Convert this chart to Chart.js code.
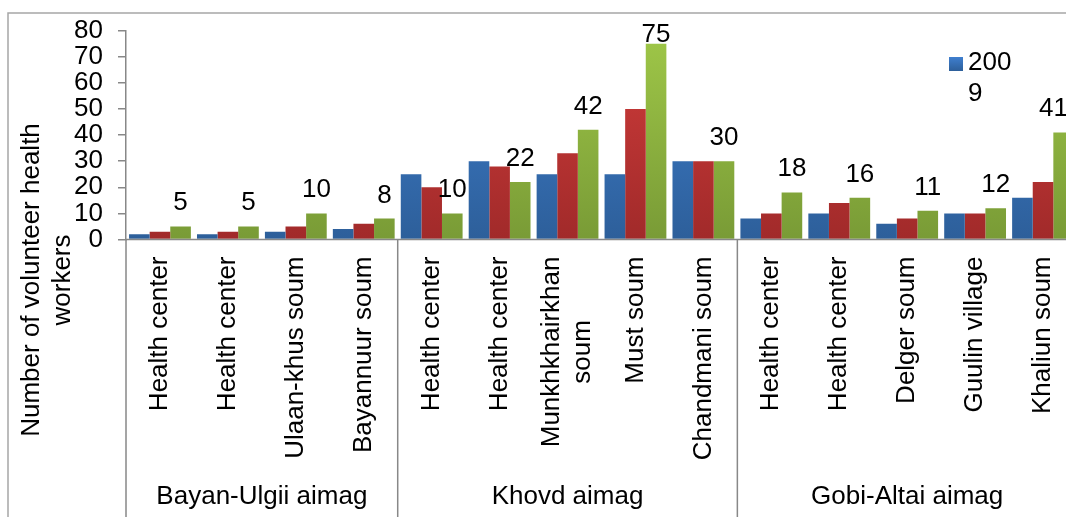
<!DOCTYPE html>
<html lang="en">
<head>
    <meta charset="UTF-8">
    <title>Volunteer health workers by soum</title>
    <script src="https://cdn.jsdelivr.net/npm/chart.js"></script>
    <style>
        body {
            margin: 0;
            padding: 0;
            background: #fff;
            overflow: hidden;
        }
        #wrap {
            width: 1100px;
            height: 540px;
        }
    </style>
</head>
<body>
    <div id="wrap">
        <canvas id="workersChart" width="1100" height="540"></canvas>
    </div>
    <script>
// categories (soums / health centers) and their aimag groups
const categories = [
    ['Health center'], ['Health center'], ['Ulaan-khus soum'], ['Bayannuur soum'],
    ['Health center'], ['Health center'], ['Munkhkhairkhan', 'soum'], ['Must soum'], ['Chandmani soum'],
    ['Health center'], ['Health center'], ['Delger soum'], ['Guulin village'], ['Khaliun soum']
];
const groupNames = ['Bayan-Ulgii aimag', 'Khovd aimag', 'Gobi-Altai aimag'];
const groupSizes = [4, 5, 5];

const seriesNames = ['2009', '2010', '2011'];
const values2009 = [2, 2, 3, 4, 25, 30, 25, 25, 30, 8, 10, 6, 10, 16];
const values2010 = [3, 3, 5, 6, 20, 28, 33, 50, 30, 10, 14, 8, 10, 22];
const values2011 = [5, 5, 10, 8, 10, 22, 42, 75, 30, 18, 16, 11, 12, 41];

const yTitle = ['Number of volunteer health', 'workers'];

const FONT = "'Liberation Sans', Arial, sans-serif";
const FONT_SIZE = 26;
const AXIS_GRAY = '#888888';

// vertical gradient for each bar colour (lighter top, darker bottom)
function barGradient(top, bottom) {
    return (ctx) => {
        const area = ctx.chart.chartArea;
        if (!area) return top;
        const g = ctx.chart.ctx.createLinearGradient(0, area.top, 0, area.bottom);
        g.addColorStop(0, top);
        g.addColorStop(1, bottom);
        return g;
    };
}

// everything Excel-like that Chart.js does not draw by itself
const decorations = {
    id: 'decorations',
    afterDraw(chart) {
        const ctx = chart.ctx;
        const area = chart.chartArea;
        const xs = chart.scales.x;
        const H = chart.height;

        ctx.save();

        // outer chart border
        ctx.strokeStyle = '#a6a6a6';
        ctx.lineWidth = 1.5;
        ctx.strokeRect(8, 13, chart.width, H);

        // x axis line
        ctx.strokeStyle = AXIS_GRAY;
        ctx.lineWidth = 1.5;
        ctx.beginPath();
        ctx.moveTo(area.left, area.bottom);
        ctx.lineTo(area.right, area.bottom);
        ctx.stroke();

        // group separators under the axis
        const step = xs.getPixelForValue(1) - xs.getPixelForValue(0);
        let start = 0;
        const bounds = [area.left];
        groupSizes.forEach((n) => {
            start += n;
            bounds.push(xs.getPixelForValue(start - 1) + step / 2);
        });
        ctx.beginPath();
        bounds.forEach((bx) => {
            ctx.moveTo(bx, area.bottom);
            ctx.lineTo(bx, H);
        });
        ctx.stroke();

        ctx.fillStyle = '#000';
        ctx.font = FONT_SIZE + 'px ' + FONT;

        // rotated category labels
        ctx.textAlign = 'center';
        ctx.textBaseline = 'middle';
        categories.forEach((lines, i) => {
            const cx = xs.getPixelForValue(i);
            const w = Math.max(...lines.map((l) => ctx.measureText(l).width));
            const cy = area.bottom + 17 + w / 2;
            const lh = 31;
            lines.forEach((line, k) => {
                const off = (k - (lines.length - 1) / 2) * lh;
                ctx.save();
                ctx.translate(cx + off, cy);
                ctx.rotate(-Math.PI / 2);
                ctx.fillText(line, 0, 0);
                ctx.restore();
            });
        });

        // group labels
        groupNames.forEach((name, g) => {
            ctx.fillText(name, (bounds[g] + bounds[g + 1]) / 2, 497);
        });

        // y axis title, two lines
        yTitle.forEach((line, k) => {
            ctx.save();
            ctx.translate(32 + k * 31, 280);
            ctx.rotate(-Math.PI / 2);
            ctx.fillText(line, 0, 0);
            ctx.restore();
        });

        // value labels on the last series, kept inside the frame
        const meta = chart.getDatasetMeta(2);
        ctx.textBaseline = 'alphabetic';
        meta.data.forEach((bar, i) => {
            const txt = String(values2011[i]);
            const half = ctx.measureText(txt).width / 2;
            const x = Math.min(bar.x, 1068 - half);
            const y = Math.max(bar.y - 16, 42);
            ctx.fillText(txt, x, y);
        });

        // legend (only the first entry fits in the frame)
        const lg = ctx.createLinearGradient(0, 57, 0, 71);
        lg.addColorStop(0, '#3f7fcf');
        lg.addColorStop(1, '#2d5f9a');
        ctx.fillStyle = lg;
        ctx.fillRect(949, 57, 14, 14);
        ctx.fillStyle = '#000';
        ctx.textAlign = 'left';
        ctx.textBaseline = 'middle';
        ctx.fillText(seriesNames[0].slice(0, 3), 968, 63);
        ctx.fillText(seriesNames[0].slice(3), 968, 94);

        ctx.restore();
    }
};

const canvasW = 1100;
const canvasH = 540;
const plotRight = 1077;
const plotBottom = 239.5;

new Chart(document.getElementById('workersChart'), {
    type: 'bar',
    data: {
        labels: categories,
        datasets: [
            { label: seriesNames[0], data: values2009, backgroundColor: barGradient('#3f7fcf', '#2d5f9a') },
            { label: seriesNames[1], data: values2010, backgroundColor: barGradient('#d13d3b', '#a12a2a') },
            { label: seriesNames[2], data: values2011, backgroundColor: barGradient('#9fc748', '#799b36') }
        ]
    },
    options: {
        responsive: false,
        animation: false,
        devicePixelRatio: 1,
        categoryPercentage: 0.91,
        barPercentage: 1.0,
        layout: {
            padding: { left: 0, top: 28, right: canvasW - plotRight, bottom: 0 }
        },
        plugins: {
            legend: { display: false },
            tooltip: { enabled: false }
        },
        scales: {
            x: {
                ticks: { display: false },
                grid: { display: false },
                border: { display: false },
                afterFit(scale) { scale.height = canvasH - plotBottom; }
            },
            y: {
                min: 0,
                max: 80,
                ticks: {
                    stepSize: 10,
                    autoSkip: false,
                    padding: 15,
                    color: '#000',
                    font: { family: FONT, size: FONT_SIZE }
                },
                grid: {
                    drawOnChartArea: false,
                    drawTicks: true,
                    tickLength: 8,
                    color: AXIS_GRAY,
                    lineWidth: 1.5
                },
                border: { display: true, color: AXIS_GRAY, width: 1.5 },
                afterFit(scale) { scale.width = 126; }
            }
        }
    },
    plugins: [decorations]
});
    </script>
</body>
</html>
